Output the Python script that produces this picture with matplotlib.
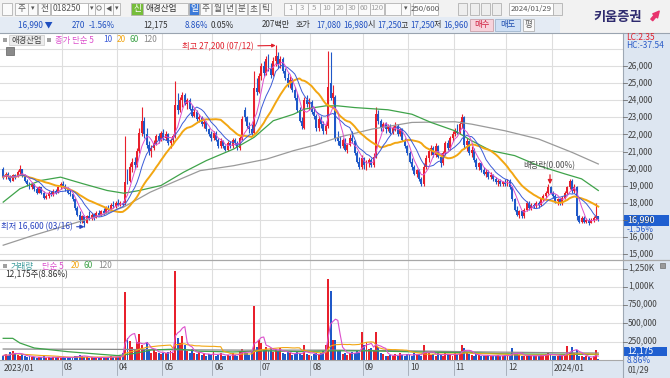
import numpy as np
import pandas as pd
import matplotlib
matplotlib.use("Agg")
import matplotlib.pyplot as plt
from matplotlib.patches import Rectangle, Circle

plt.rcParams['font.family'] = ['Noto Sans CJK KR', 'DejaVu Sans']

W, H = 670, 378

# daily prices in units of 100 won, 2023/01 .. 2024/01/29 (250 trading days)
opens = [200, 195, 197, 195, 193, 196, 195, 198, 200, 196, 193, 191, 189, 191, 188, 186, 189, 186, 183, 184, 186, 185, 187, 186, 189,
         191, 190, 188, 186, 185, 182, 177, 173, 170, 172, 168, 172, 171, 173, 171, 174, 173, 175, 174, 177, 176, 179, 178,
         180, 179, 180, 180, 197, 193, 201, 204, 202, 210, 221, 228, 220, 214, 210, 212, 215, 219, 217,
         221, 218, 220, 215, 217, 219, 237, 234, 240, 243, 238, 240, 235, 231, 233, 229, 230, 226, 227, 223, 220,
         218, 221, 217, 213, 216, 213, 211, 215, 213, 217, 215, 212, 218, 234, 230, 225, 223, 221, 247, 245,
         254, 260, 256, 264, 258, 255, 263, 266, 261, 264, 257, 253, 250, 252, 246, 241, 234, 228, 224, 240, 238,
         239, 233, 231, 224, 229, 226, 222, 225, 250, 241, 242, 218, 216, 213, 217, 211, 214, 218, 216, 209, 204, 201,
         206, 202, 203, 205, 202, 207, 232, 228, 224, 226, 223, 225, 221, 224, 225, 220, 223, 217, 213,
         209, 204, 201, 197, 199, 194, 191, 201, 206, 210, 212, 208, 213, 207, 203, 209, 215, 212, 218,
         220, 222, 221, 226, 230, 214, 216, 209, 211, 205, 201, 203, 199, 197, 198, 195, 196, 194, 192, 193, 191, 192,
         191, 193, 189, 182, 176, 173, 175, 172, 176, 180, 177, 179, 178, 180, 179, 182, 184, 186, 189,
         186, 184, 181, 182, 180, 183, 186, 189, 193, 187, 189, 172, 169, 171, 169, 170, 168, 170, 171, 172.5]
highs = [201, 198, 198, 196, 197, 197, 199, 202, 200, 197, 194, 192, 192, 191, 189, 190, 189, 187, 185, 187, 187, 188, 188, 190, 192,
         193, 191, 189, 188, 186, 183, 178, 175, 173, 173, 173, 175, 174, 174, 175, 176, 176, 177, 178, 179, 180, 181, 181,
         182, 181, 181, 219, 200, 203, 206, 207, 212, 224, 236, 230, 224, 216, 214, 217, 220, 221, 222,
         223, 222, 221, 218, 220, 251, 244, 242, 245, 244, 241, 241, 237, 235, 234, 232, 231, 229, 228, 224, 222,
         222, 222, 218, 218, 217, 214, 216, 216, 218, 218, 216, 219, 231, 236, 231, 227, 226, 257, 253, 256,
         262, 263, 266, 267, 262, 265, 272, 268, 266, 265, 259, 256, 254, 253, 248, 244, 236, 230, 242, 243, 241,
         240, 236, 232, 231, 231, 228, 226, 269, 268, 249, 243, 222, 219, 218, 218, 215, 220, 222, 217, 210, 207, 208,
         207, 205, 206, 206, 209, 236, 234, 229, 227, 227, 226, 226, 225, 227, 226, 224, 224, 218, 214,
         210, 206, 202, 200, 200, 195, 203, 208, 211, 214, 213, 215, 214, 209, 210, 216, 217, 219, 222,
         224, 226, 228, 232, 231, 218, 217, 213, 212, 206, 204, 204, 201, 200, 199, 198, 197, 195, 194, 194, 193, 194,
         194, 194, 190, 183, 178, 176, 176, 177, 181, 181, 180, 180, 181, 181, 183, 185, 187, 191, 190,
         187, 185, 183, 183, 184, 187, 190, 194, 194, 191, 190, 173, 172, 172, 171, 171, 171, 172, 180, 172.5]
lows = [194, 194, 194, 192, 193, 194, 195, 197, 195, 192, 190, 188, 188, 187, 185, 186, 185, 182, 182, 183, 184, 184, 185, 186, 188,
        189, 187, 185, 184, 181, 176, 172, 168, 168, 166, 168, 170, 170, 170, 171, 172, 172, 173, 174, 175, 176, 177, 177,
        178, 178, 178, 179, 191, 192, 198, 200, 201, 209, 219, 218, 212, 208, 207, 211, 214, 215, 216,
        217, 217, 214, 212, 215, 218, 232, 233, 236, 237, 235, 234, 230, 230, 228, 227, 225, 224, 222, 219, 216,
        217, 216, 212, 212, 212, 210, 210, 212, 212, 214, 211, 211, 217, 228, 224, 221, 219, 220, 243, 244,
        252, 254, 255, 257, 253, 254, 260, 259, 259, 256, 252, 248, 247, 245, 240, 233, 227, 223, 223, 236, 234,
        232, 229, 222, 222, 224, 220, 220, 224, 240, 238, 216, 214, 212, 212, 210, 209, 213, 215, 208, 203, 200, 200,
        200, 199, 201, 201, 201, 206, 226, 222, 222, 221, 222, 220, 220, 222, 219, 219, 216, 212, 208,
        203, 199, 196, 195, 193, 190, 190, 200, 204, 208, 207, 207, 206, 201, 202, 208, 211, 211, 216,
        219, 220, 220, 224, 212, 210, 208, 207, 204, 200, 199, 198, 196, 195, 194, 194, 193, 191, 190, 190, 190, 190,
        190, 188, 181, 175, 172, 171, 171, 171, 175, 176, 176, 177, 177, 177, 178, 181, 183, 185, 185,
        183, 180, 179, 179, 179, 182, 185, 188, 186, 186, 170, 168, 168, 168, 168, 167, 168, 169, 170, 169.6]
closes = [195, 197, 195, 193, 196, 195, 198, 200, 196, 193, 191, 189, 191, 188, 186, 189, 186, 183, 184, 186, 185, 187, 186, 189, 191,
          190, 188, 186, 185, 182, 177, 173, 170, 172, 168, 172, 171, 173, 171, 174, 173, 175, 174, 177, 176, 179, 178, 180,
          179, 180, 179, 192, 193, 201, 204, 202, 210, 221, 228, 220, 214, 210, 212, 215, 219, 217, 221,
          218, 220, 215, 217, 219, 237, 234, 240, 243, 238, 240, 235, 231, 233, 229, 230, 226, 227, 223, 220, 218,
          221, 217, 213, 216, 213, 211, 215, 213, 217, 215, 212, 218, 229, 230, 225, 223, 221, 247, 245, 254,
          260, 256, 264, 258, 255, 263, 266, 261, 264, 257, 253, 250, 252, 246, 241, 234, 228, 225, 240, 238, 239,
          233, 231, 224, 229, 226, 222, 225, 248, 241, 244, 218, 216, 213, 217, 211, 214, 218, 216, 209, 204, 201, 206,
          202, 203, 205, 202, 207, 232, 228, 224, 226, 223, 225, 221, 224, 225, 220, 223, 217, 213, 209,
          204, 201, 197, 199, 194, 191, 201, 206, 210, 212, 208, 213, 207, 203, 209, 215, 212, 218, 220,
          222, 221, 226, 230, 214, 216, 209, 211, 205, 201, 203, 199, 197, 198, 195, 196, 194, 192, 193, 191, 192, 191,
          193, 189, 182, 176, 173, 175, 172, 176, 180, 177, 179, 178, 180, 179, 182, 184, 186, 189, 186,
          184, 181, 182, 180, 183, 186, 189, 193, 187, 189, 172, 169, 171, 169, 170, 168, 170, 171, 172, 169.9]
# daily volume, thousands of shares
volumes = [60, 80, 50, 110, 120, 90, 70, 60, 80, 50, 40, 50, 35, 45, 30, 40, 35, 50, 30, 40, 30, 45, 35, 40, 30,
           45, 30, 35, 40, 30, 50, 60, 70, 55, 40, 35, 30, 40, 30, 35, 30, 40, 35, 30, 45, 50, 40, 35,
           45, 60, 90, 930, 300, 260, 180, 140, 250, 350, 200, 150, 250, 120, 100, 150, 110, 90, 80,
           100, 90, 110, 120, 100, 1220, 300, 230, 330, 200, 120, 100, 150, 90, 80, 110, 70, 90, 60, 80, 70,
           110, 60, 70, 100, 60, 50, 70, 60, 90, 70, 60, 120, 150, 110, 90, 70, 120, 740, 180, 270,
           230, 150, 180, 120, 170, 110, 150, 120, 160, 90, 80, 110, 90, 70, 80, 120, 90, 70, 200, 80, 70,
           60, 80, 90, 70, 100, 120, 200, 1100, 940, 280, 270, 120, 130, 80, 90, 70, 100, 110, 90, 120, 100, 380,
           200, 240, 150, 170, 120, 380, 180, 100, 80, 60, 50, 70, 60, 80, 55, 90, 70, 60, 80,
           70, 60, 90, 70, 80, 60, 200, 110, 90, 70, 80, 60, 90, 70, 60, 90, 80, 70, 60,
           90, 80, 110, 200, 170, 100, 80, 70, 60, 80, 70, 60, 50, 60, 70, 50, 60, 50, 70, 50, 60, 70,
           60, 50, 170, 90, 80, 70, 60, 50, 60, 70, 50, 60, 50, 60, 70, 60, 80, 100, 70,
           60, 50, 60, 70, 60, 80, 190, 110, 180, 100, 130, 60, 50, 40, 50, 40, 30, 50, 130, 12.175]

month_start = [0, 25, 48, 67, 88, 108, 129, 151, 170, 189, 211, 230]
month_label = ['2023/01', '03', '04', '05', '06', '07', '08', '09', '10', '11', '12', '2024/01']

# long moving averages (trading day, value)
ma60_day = [0, 7, 15.5, 24, 33.5, 43.5, 50.5, 57, 66, 75.5, 85, 96.5, 105, 113, 121.5, 126, 135, 140, 147,
            161, 171, 179, 189, 196, 204, 214, 224, 235, 242, 249]
ma60_val = [180.4, 188.2, 193, 195, 191.1, 187.2, 185.6, 187.2, 190.1, 197.9, 204.7, 211.5, 218.3, 228, 231.8,
            234.8, 236.7, 236.7, 235.7, 234.4, 231.8, 227, 222.1, 216.3, 210.5, 207.6, 201.7, 196.9, 194, 187.2]
ma120_day = [0, 12.7, 26.6, 40.6, 50.4, 61.5, 72.7, 82.4, 96.4, 110.3, 121.5, 130.6, 140.3, 154.3, 171,
             189, 196, 210, 224, 238, 249]
ma120_val = [155.2, 161, 166.8, 172.6, 177.5, 186.2, 193, 198.8, 201.7, 205.6, 210.5, 213.8, 218.3, 223.1,
             227, 227.4, 226, 222.1, 217.3, 209.5, 202.7]
vol_ma60_day = [0, 4, 7, 13, 27, 41, 48, 55, 62, 73, 82, 96, 110, 124, 138, 153, 167, 181, 195, 209, 223, 249]
vol_ma60_val = [296, 296, 232, 164, 114, 77, 60, 90, 137, 150, 120, 110, 125, 115, 125, 125, 115, 105, 100, 85, 80, 75]
vol_ma120_day = [0, 48, 70, 100, 140, 170, 200, 230, 249]
vol_ma120_val = [150, 145, 140, 135, 135, 125, 110, 100, 95]

price_ticks = list(range(15000, 27000, 1000))
vol_ticks = [250000, 500000, 750000, 1000000, 1250000]
vol_tick_labels = ['250,000', '500,000', '750,000', '1,000K', '1,250K']

RED = '#e8202c'
BLUE = '#1f58c8'
C_MA5 = '#dc50cc'
C_MA10 = '#3b5bd8'
C_MA20 = '#f2a612'
C_MA60 = '#3fa34a'
C_MA120 = '#9a9a9a'
GRID = '#dedede'


def rect(x0, y0, x1, y1):
    return [x0 / W, 1 - y1 / H, (x1 - x0) / W, (y1 - y0) / H]


o = np.array(opens) * 100
h = np.array(highs) * 100
l = np.array(lows) * 100
c = np.array(closes) * 100
h = np.maximum(h, np.maximum(o, c))
l = np.minimum(l, np.minimum(o, c))
v = np.array(volumes) * 1000
idx = np.arange(len(c))
up = c >= o
colors = np.where(up, RED, BLUE)

fig = plt.figure(figsize=(W / 100, H / 100), dpi=100)
fig.patch.set_facecolor('white')

# pixel -> data mapping
x_lo, x_hi = -3.2 / 2.39, (623 - 3.2) / 2.39
p_top = 26000 + 33 / 0.0171
p_bot = 26000 - (260 - 66) / 0.0171

ax_p = fig.add_axes(rect(0, 33, 623, 260))
ax_v = fig.add_axes(rect(0, 260, 623, 360))
for ax in (ax_p, ax_v):
    ax.set_xlim(x_lo, x_hi)
    ax.set_axis_off()
ax_p.set_ylim(p_bot, p_top)
ax_v.set_ylim(0, 100 / 18.3 * 250000)

# grid
for p in price_ticks + [27000]:
    ax_p.axhline(p, color=GRID, lw=0.8, zorder=0)
for t in vol_ticks:
    ax_v.axhline(t, color=GRID, lw=0.8, zorder=0)
for m in month_start[1:]:
    ax_p.axvline(m - 0.5, color=GRID, lw=0.8, zorder=0)
    ax_v.axvline(m - 0.5, color=GRID, lw=0.8, zorder=0)

# candles
ax_p.vlines(idx, l, h, colors=colors, lw=0.8, zorder=2)
body = np.maximum(np.abs(c - o), 30)
ax_p.bar(idx, body, bottom=np.minimum(o, c), width=0.82, color=colors, linewidth=0, zorder=2)

cs = pd.Series(c)
ax_p.plot(ma120_day, np.array(ma120_val) * 100, color=C_MA120, lw=0.9, zorder=3)
ax_p.plot(ma60_day, np.array(ma60_val) * 100, color=C_MA60, lw=0.9, zorder=3)
ax_p.plot(idx, cs.rolling(20, min_periods=1).mean(), color=C_MA20, lw=1.4, zorder=3)
ax_p.plot(idx, cs.rolling(10, min_periods=1).mean(), color=C_MA10, lw=0.7, zorder=3)
ax_p.plot(idx, cs.rolling(5, min_periods=1).mean(), color=C_MA5, lw=0.7, zorder=3)

# high / low markers
imax = int(np.argmax(h))
imin = int(np.argmin(l))
ax_p.annotate('최고 {:,} (07/12)'.format(int(h[imax])), xy=(imax, h[imax]), xytext=(-22, -1),
              textcoords='offset pixels', ha='right', va='center', fontsize=6, color='#e0202c',
              arrowprops=dict(arrowstyle='-|>', color='#e0202c', lw=0.8, mutation_scale=5,
                              shrinkA=1, shrinkB=0))
ax_p.annotate('최저 {:,} (03/16)'.format(int(l[imin])), xy=(imin, l[imin]), xytext=(-12, 0),
              textcoords='offset pixels', ha='right', va='center', fontsize=6, color='#2a44c0',
              arrowprops=dict(arrowstyle='-|>', color='#2a44c0', lw=0.8, mutation_scale=6,
                              shrinkA=1, shrinkB=0))

# volume
ax_v.bar(idx, v, width=0.82, color=colors, linewidth=0, zorder=2)
vs = pd.Series(v)
ax_v.plot(vol_ma120_day, np.array(vol_ma120_val) * 1000, color='#8a8a8a', lw=0.9, zorder=3)
ax_v.plot(vol_ma60_day, np.array(vol_ma60_val) * 1000, color=C_MA60, lw=0.9, zorder=3)
ax_v.plot(idx, vs.rolling(20, min_periods=1).mean(), color=C_MA20, lw=0.8, zorder=3)
ax_v.plot(idx, vs.rolling(5, min_periods=1).mean(), color=C_MA5, lw=0.8, zorder=3)

# ---- overlay in pixel coordinates: frame, header, labels ----
ax_o = fig.add_axes([0, 0, 1, 1])
ax_o.set_xlim(0, W)
ax_o.set_ylim(H, 0)
ax_o.set_axis_off()

BAND = '#dde6f1'
ax_o.add_patch(Rectangle((623, 33), 47, 345, fc=BAND, ec='none'))
ax_o.add_patch(Rectangle((0, 360), 623, 18, fc=BAND, ec='none'))
ax_o.plot([623, 623], [33, 378], color='#9ea8b4', lw=0.8)
ax_o.plot([0, 670], [260, 260], color='#a8a8a8', lw=0.9)
ax_o.plot([0, 623], [360, 360], color='#a8a8a8', lw=0.8)
ax_o.plot([0, 670], [33, 33], color='#9aa4b0', lw=0.8)

TXT = '#404040'
fs = 6

# right price axis
for p in price_ticks:
    y = 66 + (26000 - p) * 0.0171
    ax_o.plot([623, 627], [y, y], color='#707070', lw=0.6)
    ax_o.text(628, y, '{:,}'.format(p), fontsize=fs, color=TXT, va='center', ha='left')
for t, lab in zip(vol_ticks, vol_tick_labels):
    y = 360 - t / 250000 * 18.3
    ax_o.plot([623, 627], [y, y], color='#707070', lw=0.6)
    ax_o.text(628, y - 1, lab, fontsize=fs, color=TXT, va='center', ha='left')

ax_o.text(626, 38, 'LC:2.35', fontsize=fs, color='#e0202c', va='center')
ax_o.text(626, 46, 'HC:-37.54', fontsize=fs, color='#2a5cc8', va='center')

# current price / volume boxes
y_last = 66 + (26000 - c[-1]) * 0.0171
ax_o.add_patch(Rectangle((624, y_last - 5.5), 45, 11, fc='#1f5fd0', ec='none'))
ax_o.text(627, y_last, '{:,}'.format(int(round(c[-1]))), fontsize=6.5, color='white', va='center')
ax_o.text(627, y_last + 9, '-1.56%', fontsize=fs, color='#2a5cc8', va='center')
ax_o.add_patch(Rectangle((624, 346.5), 43, 9.5, fc='#1f5fd0', ec='none'))
ax_o.text(627, 351.3, '{:,}'.format(int(round(v[-1]))), fontsize=6.2, color='white', va='center')
ax_o.text(627, 360.5, '8.86%', fontsize=fs, color='#2a5cc8', va='center')
ax_o.add_patch(Rectangle((660, 263), 5, 5, fc='#9a9a9a', ec='#707070', lw=0.5))

# date band
for m, lab in zip(month_start, month_label):
    x = 3.2 + 2.39 * (m - 0.5)
    if m > 0:
        ax_o.plot([x, x], [360, 375], color='#a0a8b4', lw=0.6)
    ax_o.text(max(x, 1) + 2, 368, lab, fontsize=fs, color=TXT, va='center')
ax_o.text(628, 370, '01/29', fontsize=fs, color=TXT, va='center')

# dividend marker
ax_o.text(523, 166, '배당락(0.00%)', fontsize=fs, color='#505050', va='center')
ax_o.annotate('', xy=(550, 187), xytext=(550, 172),
              arrowprops=dict(arrowstyle='-|>', color='#e0202c', lw=0.9, mutation_scale=6))

# price legend
ax_o.add_patch(Rectangle((3, 37.5), 4, 4, fc='#a0a0a0', ec='none'))
ax_o.add_patch(Rectangle((9, 34.5), 35, 10, fc='#ececec', ec='#c8c8c8', lw=0.5))
ax_o.text(11, 40, '애경산업', fontsize=fs, color='#404040', va='center')
ax_o.add_patch(Rectangle((47, 37.5), 4, 4, fc='#a0a0a0', ec='none'))
ax_o.text(55, 40, '종가 단순 5', fontsize=fs, color=C_MA5, va='center')
ax_o.text(103, 40, '10', fontsize=fs, color=C_MA10, va='center')
ax_o.text(117, 40, '20', fontsize=fs, color=C_MA20, va='center')
ax_o.text(130, 40, '60', fontsize=fs, color=C_MA60, va='center')
ax_o.text(143, 40, '120', fontsize=fs, color='#8a8a8a', va='center')
ax_o.add_patch(Rectangle((6, 47), 8, 8, fc='#8a8a8a', ec='#606060', lw=0.5))

# volume legend
ax_o.add_patch(Rectangle((3, 264), 4, 4, fc='#a0a0a0', ec='none'))
ax_o.text(11, 266, '거래량', fontsize=fs, color='#3a9a9a', va='center')
ax_o.text(42, 266, '단순 5', fontsize=fs, color=C_MA5, va='center')
ax_o.text(71, 266, '20', fontsize=fs, color=C_MA20, va='center')
ax_o.text(84, 266, '60', fontsize=fs, color=C_MA60, va='center')
ax_o.text(98, 266, '120', fontsize=fs, color='#8a8a8a', va='center')
ax_o.text(5, 275, '12,175주(8.86%)', fontsize=fs, color='#303030', va='center')

# header row 1
ax_o.add_patch(Rectangle((0, 0), 670, 17, fc='#f2f2f2', ec='none'))
ax_o.add_patch(Rectangle((0, 17), 560, 16, fc='#e4ebf4', ec='none'))
ax_o.add_patch(Rectangle((560, 17), 110, 16, fc='#f2f2f2', ec='none'))


def box(x0, x1, label='', fc='#fafafa', tc='#555555', ha='center', y0=2.5, y1=14.5, size=6.2):
    ax_o.add_patch(Rectangle((x0, y0), x1 - x0, y1 - y0, fc=fc, ec='#b2b2b2', lw=0.6))
    if label:
        xt = (x0 + x1) / 2 if ha == 'center' else x0 + 2
        ax_o.text(xt, (y0 + y1) / 2, label, fontsize=size, color=tc, ha=ha, va='center')


box(2, 12)
box(15, 28, '주')
box(28, 37, '▾', size=5)
box(38, 50, '전')
box(51, 88, '018250', fc='white', ha='left')
box(88, 95, '▾', size=5)
box(95, 104)
ax_o.add_patch(Circle((99, 8), 2.2, fc='none', ec='#707070', lw=0.6))
box(104, 113, '◀', size=4.5)
box(113, 120, '▾', size=5)
box(131, 143, '신', fc='#76bd3a', tc='white')
box(143, 188, '애경산업', fc='#f6f6f6', tc='#333333', ha='left')
box(189, 199, '일', fc='#3c7ad8', tc='white')
for x0, lab in zip([200, 212, 224, 236, 248, 260], ['주', '월', '년', '분', '초', '틱']):
    box(x0, x0 + 11, lab)
for x0, x1, lab in [(284, 296, '1'), (296, 308, '3'), (308, 320, '5'), (320, 334, '10'), (334, 346, '20'),
                    (346, 358, '30'), (358, 370, '60'), (370, 384, '120')]:
    box(x0, x1, lab, tc='#a0a0a0', size=5.6)
box(385, 401)
box(401, 410, '▾', size=5)
box(413, 438, '250/600', fc='white', size=5.6)
for x0 in [458, 470, 481, 492]:
    box(x0, x0 + 9, '', fc='#eeeeee')
box(509, 553, '2024/01/29', fc='white', size=5.6)
box(553, 562, '', fc='#eeeeee')

ax_o.text(593, 17, '키움증권', fontsize=9.5, fontweight='bold', color='#2e2a6e', va='center')
ax_o.annotate('', xy=(661, 9), xytext=(650, 22),
              arrowprops=dict(arrowstyle='simple', fc='#e8336d', ec='#e8336d', mutation_scale=9))

# header row 2
row2 = [(18, '16,990 ▼', '#1f4fc0'), (72, '270', '#1f4fc0'), (89, '-1.56%', '#1f4fc0'),
        (143, '12,175', '#333333'), (185, '8.86%', '#1f4fc0'), (211, '0.05%', '#333333'),
        (262, '207백만', '#333333'), (296, '호가', '#333333'), (316, '17,080', '#1f4fc0'),
        (343, '16,980', '#1f4fc0'), (368, '시', '#333333'), (377, '17,250', '#1f4fc0'),
        (401, '고', '#333333'), (410, '17,250', '#1f4fc0'), (434, '저', '#333333'),
        (443, '16,960', '#1f4fc0')]
for x, lab, col in row2:
    ax_o.text(x, 25, lab, fontsize=5.8, color=col, va='center')
ax_o.add_patch(Rectangle((470, 19), 23, 12, fc='#f7d3dc', ec='#c8a0a8', lw=0.6))
ax_o.text(481.5, 25, '매수', fontsize=6, color='#d02040', ha='center', va='center')
ax_o.add_patch(Rectangle((495, 19), 25, 12, fc='#cfe0f5', ec='#9fb4cc', lw=0.6))
ax_o.text(507.5, 25, '매도', fontsize=6, color='#2050b0', ha='center', va='center')
ax_o.add_patch(Rectangle((523, 19), 11, 12, fc='#fafafa', ec='#b2b2b2', lw=0.6))
ax_o.text(528.5, 25, '평', fontsize=6, color='#555555', ha='center', va='center')

fig.savefig('out.png', dpi=100)
